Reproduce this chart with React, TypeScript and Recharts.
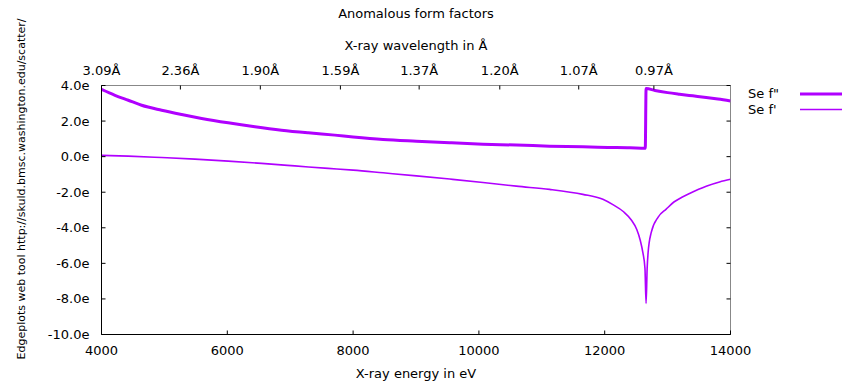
import { Line, LineChart, ReferenceLine, XAxis, YAxis } from "recharts"

const energyTicks = [4000, 6000, 8000, 10000, 12000, 14000]
const waveTickEnergy = [4000, 5254, 6525, 7798, 9050, 10332, 11587, 12782]
const waveTickLabels = ["3.09Å", "2.36Å", "1.90Å", "1.59Å", "1.37Å", "1.20Å", "1.07Å", "0.97Å"]
const yTicks = [4, 2, 0, -2, -4, -6, -8, -10]
const yTickLabels = ["4.0e", "2.0e", "0.0e", "-2.0e", "-4.0e", "-6.0e", "-8.0e", "-10.0e"]

// Se f'' (absorption)
const fppEnergy = [
  4000, 4214, 4426, 4638, 4956, 5274, 5592, 6014, 6439, 6862, 7286, 7709, 8000,
  8477, 9007, 9536, 10065, 10595, 11124, 11653, 12050, 12400, 12645, 12658,
  12800, 13000, 13190, 13400, 13614, 13800, 14000,
]
const fppValue = [
  3.78, 3.45, 3.17, 2.89, 2.61, 2.37, 2.15, 1.9, 1.68, 1.49, 1.34, 1.21, 1.11,
  0.97, 0.87, 0.78, 0.7, 0.65, 0.59, 0.55, 0.52, 0.5, 0.47, 3.83, 3.72, 3.6,
  3.51, 3.42, 3.33, 3.24, 3.13,
]

// Se f' (dispersion)
const fpEnergy = [
  4000, 4426, 4956, 5485, 6014, 6545, 7074, 7603, 8000, 8477, 9007, 9536, 10065,
  10595, 11124, 11653, 11971, 12130, 12300, 12420, 12510, 12565, 12607, 12640,
  12658, 12675, 12690, 12740, 12850, 12978, 13100, 13220, 13349, 13614, 13826,
  14000,
]
const fpValue = [
  0.07, 0.03, -0.05, -0.14, -0.25, -0.38, -0.52, -0.66, -0.76, -0.91, -1.08,
  -1.26, -1.45, -1.66, -1.84, -2.12, -2.4, -2.7, -3.1, -3.55, -4.1, -4.7, -5.4,
  -6.28, -8.25, -6.28, -5.4, -4.26, -3.4, -2.95, -2.55, -2.3, -2.07, -1.66,
  -1.42, -1.27,
]

const fppData = fppEnergy.map((e, i) => ({ e, v: fppValue[i] }))
const fpData = fpEnergy.map((e, i) => ({ e, v: fpValue[i] }))

const W = 848
const H = 382
const LEFT = 101.5
const RIGHT = 730.5
const TOP = 85.5
const BOTTOM = 334.5
const COLOR = "#b000ff"
const FONT = "DejaVu Sans"

const BottomTick = ({ x, y, payload }: any) => (
  <g>
    <line x1={x} x2={x} y1={y} y2={y - 4} stroke="#000" />
    <text x={x} y={y + 20.5} textAnchor="middle" fontSize={13} fill="#000" fontFamily={FONT}>
      {payload.value}
    </text>
  </g>
)

const TopTick = ({ x, y, index }: any) => (
  <g>
    <line x1={x} x2={x} y1={y} y2={y + 4} stroke="#000" />
    <text x={x} y={y - 10.5} textAnchor="middle" fontSize={13} fill="#000" fontFamily={FONT}>
      {waveTickLabels[index]}
    </text>
  </g>
)

const LeftTick = ({ x, y, index }: any) => (
  <g>
    <line x1={x} x2={x + 4} y1={y} y2={y} stroke="#000" />
    <line x1={RIGHT - 4} x2={RIGHT} y1={y} y2={y} stroke="#000" />
    <text
      x={x - 12}
      y={y}
      textAnchor="end"
      dominantBaseline="central"
      fontSize={13}
      fill="#000"
      fontFamily={FONT}
    >
      {yTickLabels[index]}
    </text>
  </g>
)

export default function App() {
  return (
    <div style={{ position: "absolute", left: 0, top: 0, width: W, height: H, background: "#fff" }}>
      <LineChart
        width={W}
        height={H}
        margin={{ top: TOP - 30, right: W - RIGHT, bottom: 0, left: 0 }}
      >
        <XAxis
          xAxisId="bottom"
          dataKey="e"
          type="number"
          domain={[4000, 14000]}
          allowDataOverflow
          ticks={energyTicks}
          interval={0}
          height={H - BOTTOM}
          tickSize={0}
          tickMargin={0}
          axisLine={{ stroke: "#000" }}
          tick={BottomTick}
        />
        <XAxis
          xAxisId="top"
          orientation="top"
          dataKey="e"
          type="number"
          domain={[4000, 14000]}
          allowDataOverflow
          ticks={waveTickEnergy}
          interval={0}
          height={30}
          tickSize={0}
          tickMargin={0}
          axisLine={{ stroke: "#888" }}
          tick={TopTick}
        />
        <YAxis
          yAxisId="left"
          type="number"
          domain={[-10, 4]}
          allowDataOverflow
          ticks={yTicks}
          interval={0}
          width={LEFT}
          tickSize={0}
          tickMargin={0}
          axisLine={{ stroke: "#000" }}
          tick={LeftTick}
        />
        <ReferenceLine xAxisId="bottom" yAxisId="left" x={14000} stroke="#888" />
        <Line
          data={fppData}
          dataKey="v"
          xAxisId="bottom"
          yAxisId="left"
          type="monotone"
          stroke={COLOR}
          strokeWidth={3}
          dot={false}
          isAnimationActive={false}
        />
        <Line
          data={fpData}
          dataKey="v"
          xAxisId="bottom"
          yAxisId="left"
          type="monotone"
          stroke={COLOR}
          strokeWidth={1.6}
          dot={false}
          isAnimationActive={false}
        />
      </LineChart>
      <svg
        width={W}
        height={H}
        style={{ position: "absolute", left: 0, top: 0, pointerEvents: "none" }}
        fontFamily={FONT}
      >
        <text x={416} y={18} textAnchor="middle" fontSize={13} fill="#000">
          Anomalous form factors
        </text>
        <text x={416} y={50} textAnchor="middle" fontSize={13} fill="#000">
          X-ray wavelength in Å
        </text>
        <text x={416} y={378} textAnchor="middle" fontSize={13} fill="#000">
          X-ray energy in eV
        </text>
        <text
          transform="translate(25,189) rotate(-90)"
          textAnchor="middle"
          fontSize={11}
          fill="#000"
        >
          Edgeplots web tool http://skuld.bmsc.washington.edu/scatter/
        </text>
        <text x={748} y={98} fontSize={13} fill="#000">
          Se f"
        </text>
        <line x1={800} x2={842} y1={94} y2={94} stroke={COLOR} strokeWidth={3} />
        <text x={748} y={113.5} fontSize={13} fill="#000">
          Se f'
        </text>
        <line x1={800} x2={842} y1={109.5} y2={109.5} stroke={COLOR} strokeWidth={1.6} />
      </svg>
    </div>
  )
}
